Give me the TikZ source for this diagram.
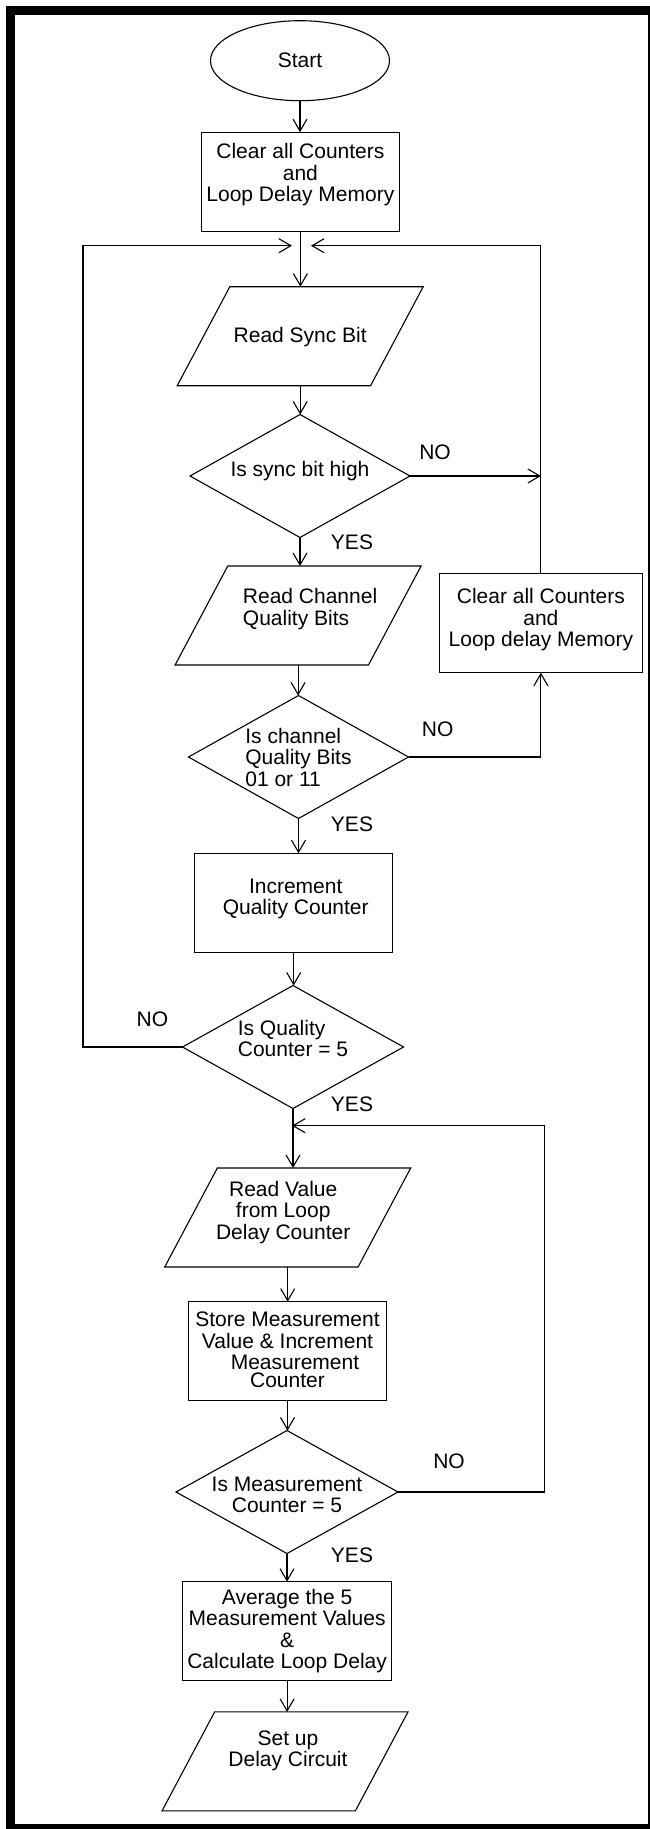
\documentclass[tikz,border=0pt]{standalone}
\usepackage{fontspec}
\setmainfont{Liberation Sans}
\usetikzlibrary{shapes.geometric,arrows.meta}
\begin{document}
\begin{tikzpicture}[x=1pt,y=-1pt,
  every node/.style={inner sep=0pt,outer sep=0pt},
  shp/.style={draw,line width=1.1pt,inner sep=0pt},
  boxn/.style={shp,rectangle,minimum width=#1,minimum height=99},
  io/.style={shp,trapezium,trapezium left angle=62,trapezium right angle=118,
    trapezium stretches body,minimum width=246,minimum height=99},
  dec/.style={shp,diamond,minimum width=#1,minimum height=123},
  txt/.style={font=\fontsize{21}{21.5}\selectfont,align=center},
  txtl/.style={font=\fontsize{21}{21.5}\selectfont,align=left},
  yn/.style={font=\fontsize{21}{21.5}\selectfont},
  ln/.style={line width=1.1pt},
  arr/.style={line width=1.1pt,-{Straight Barb[length=12pt,width=14pt]}}
]
\useasboundingbox (0,0) rectangle (650,1829);
\begin{scope}
  \clip (0,0) rectangle (650,1829);
  \draw[line width=9pt] (10.5,10.5) rectangle (652.5,1828.5);
\end{scope}

% nodes
\node[shp,ellipse,minimum width=179,minimum height=80,
  label={[txt]center:Start}] (start) at (300,60.7) {};
\node[boxn=198,label={[txt,yshift=7pt]center:Clear all Counters\\and\\Loop Delay Memory}]
  (b1) at (300.4,181.7) {};
\node[io,label={[txt,yshift=-1pt]center:Read Sync Bit}] (rs) at (300.2,336.2) {\rule{0pt}{99pt}};
\node[dec=220,label={[txt,yshift=5pt]center:Is sync bit high}] (d1) at (300,476) {};
\node[io,label={[txtl,xshift=12pt,yshift=6.5pt]center:Read Channel\\Quality Bits}]
  (rc) at (298.1,615.5) {\rule{0pt}{99pt}};
\node[boxn=203,label={[txt,yshift=3.5pt]center:Clear all Counters\\and\\Loop delay Memory}]
  (b2) at (540.9,623.2) {};
\node[dec=220,label={[txtl]center:Is channel\\Quality Bits\\01 or 11}] (d2) at (298.5,757) {};
\node[boxn=198,label={[txt,xshift=2pt,yshift=4pt]center:Increment\\Quality Counter}]
  (b3) at (293.7,902.8) {};
\node[dec=221,label={[txtl,yshift=8.5pt]center:Is Quality\\Counter = 5}] (d3) at (293,1047) {};
\node[io,label={[txt,xshift=-4.5pt,yshift=5pt]center:Read Value\\from Loop\\Delay Counter}]
  (rv) at (287.7,1217.5) {\rule{0pt}{99pt}};
\node[boxn=198,label={[txt,yshift=1.5pt]center:Store Measurement\\Value \& Increment\\\hspace*{15pt}Measurement\\[-4pt]Counter}]
  (b4) at (287.5,1351.2) {};
\node[dec=222,label={[txt,yshift=-2.7pt]center:Is Measurement\\Counter = 5}] (d4) at (287,1492) {};
\node[boxn=209,label={[txt]center:Average the 5\\Measurement Values\\\&\\Calculate Loop Delay}]
  (b5) at (287.1,1631.2) {};
\node[io,label={[txt,xshift=3pt,yshift=10.5pt]center:Set up\\Delay Circuit}]
  (su) at (285,1761.4) {\rule{0pt}{99pt}};

% yes / no labels
\node[yn] (no1) at (435,452) {NO};
\node[yn] (yes1) at (352,542.3) {YES};
\node[yn] (no2) at (437.6,729) {NO};
\node[yn] (yes2) at (352,824.3) {YES};
\node[yn] (no3) at (152.4,1019.3) {NO};
\node[yn] (yes3) at (352,1104.3) {YES};
\node[yn] (no4) at (449,1461.7) {NO};
\node[yn] (yes4) at (352,1555.7) {YES};

% junction coordinates
\coordinate (m1l) at (292,245.7);
\coordinate (m1r) at (311,245.7);
\coordinate (lc) at (83,245.7);
\coordinate (m2) at (292,1125.7);
\coordinate (r2) at (544.4,1125.7);

% main flow
\draw[arr] (start.south) -- (start.south |- b1.north);
\draw[arr] (b1.south) -- (b1.south |- rs.north);
\draw[arr] (rs.south) -- (rs.south |- d1.north);
\draw[arr] (d1.south) -- (d1.south |- rc.north);
\draw[arr] (rc.south) -- (rc.south |- d2.north);
\draw[arr] (d2.south) -- (d2.south |- b3.north);
\draw[arr] (b3.south) -- (b3.south |- d3.north);
\draw[arr] (d3.south) -- (d3.south |- rv.north);
\draw[arr] (rv.south) -- (rv.south |- b4.north);
\draw[arr] (b4.south) -- (b4.south |- d4.north);
\draw[arr] (d4.south) -- (d4.south |- b5.north);
\draw[arr] (b5.south) -- (b5.south |- su.north);

% loops
\draw[arr] (d1.east) -- (d1.east -| b2.north);
\draw[arr] (d2.east) -| (b2.south);
\draw[arr] (b2.north) |- (m1r);
\draw[arr] (d3.west) -| (lc) -- (m1l);
\draw[arr] (d4.east) -| (r2) -- (m2);
\end{tikzpicture}
\end{document}
